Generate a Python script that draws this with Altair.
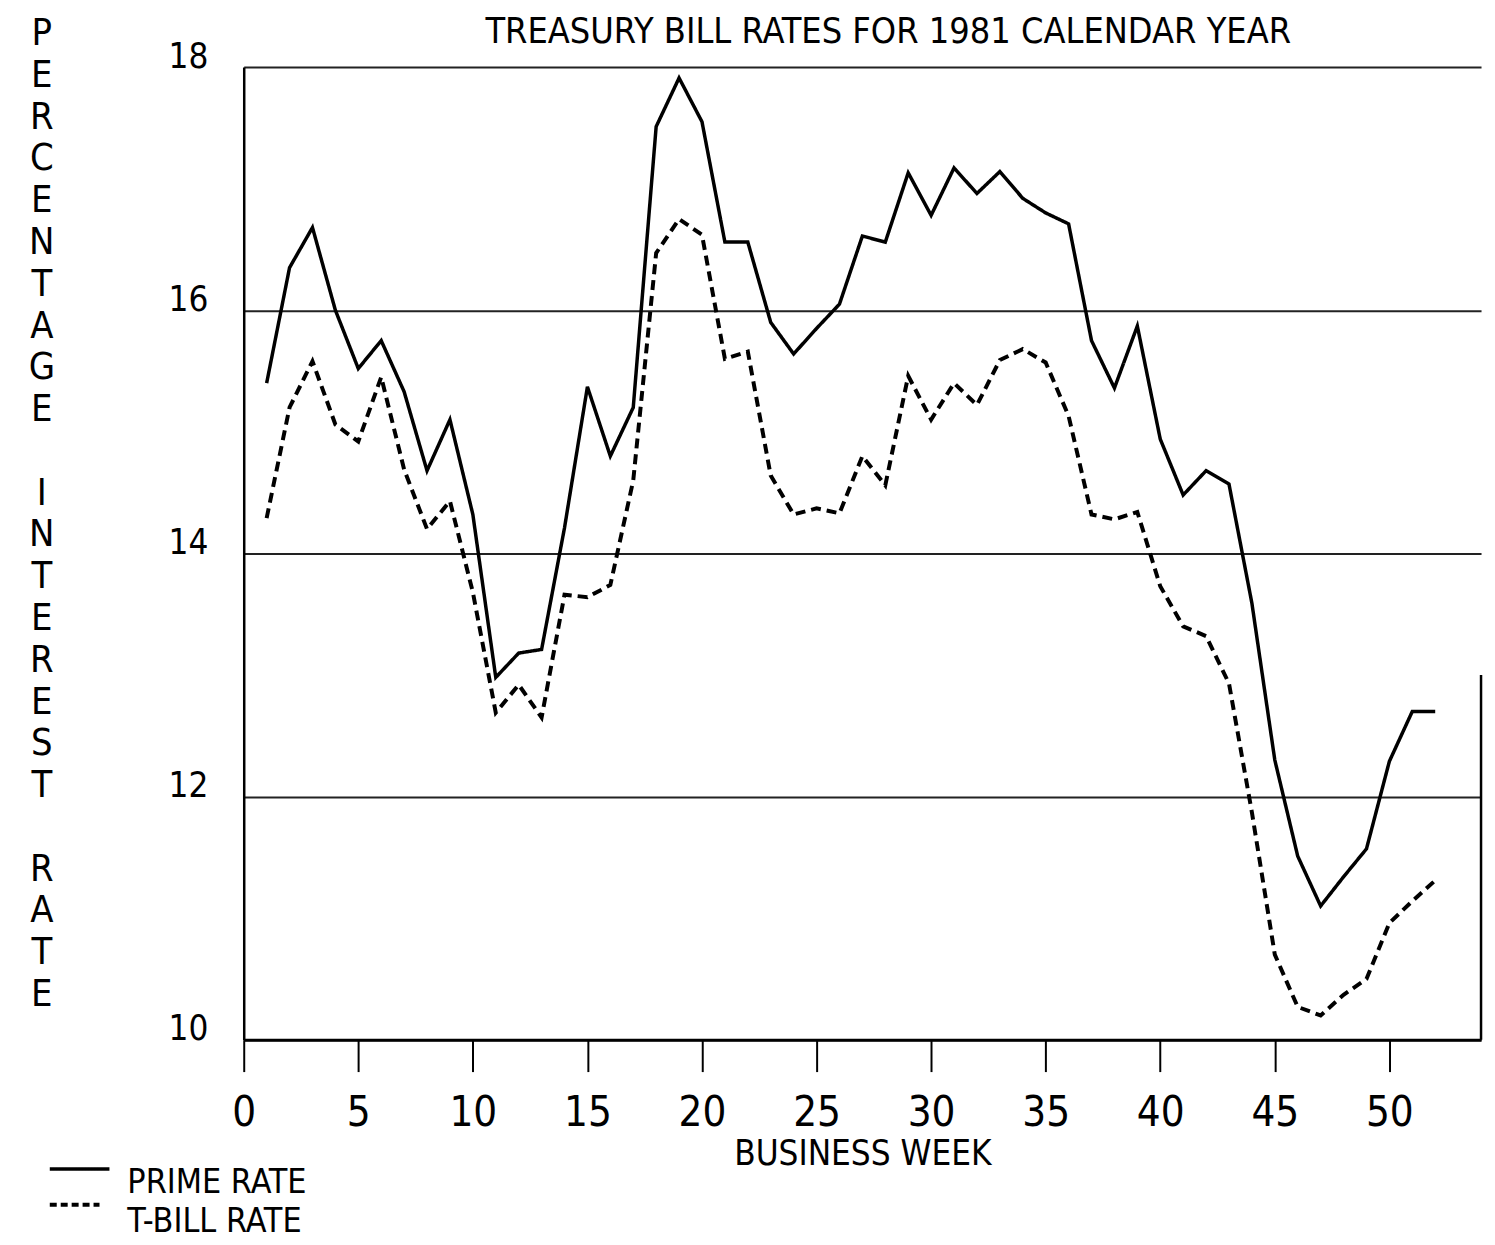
import altair as alt
import pandas as pd

# ---------------- data ----------------
weeks = list(range(1, 53))

prime_rate = [
    15.40, 16.35, 16.68, 16.00, 15.52, 15.75, 15.33, 14.68, 15.10, 14.32,
    12.98, 13.18, 13.21, 14.21, 15.37, 14.80, 15.20, 17.51, 17.91, 17.55,
    16.56, 16.56, 15.90, 15.64, 15.85, 16.05, 16.61, 16.56, 17.13, 16.78,
    17.17, 16.96, 17.14, 16.92, 16.80, 16.71, 15.75, 15.36, 15.87, 14.94,
    14.48, 14.68, 14.57, 13.59, 12.30, 11.51, 11.10, 11.34, 11.57, 12.29,
    12.70, 12.70,
]

tbill_rate = [
    14.29, 15.20, 15.58, 15.06, 14.92, 15.45, 14.69, 14.20, 14.43, 13.68,
    12.69, 12.92, 12.65, 13.66, 13.64, 13.74, 14.60, 16.47, 16.75, 16.62,
    15.60, 15.66, 14.64, 14.32, 14.37, 14.33, 14.80, 14.56, 15.46, 15.10,
    15.40, 15.22, 15.59, 15.68, 15.57, 15.13, 14.32, 14.28, 14.34, 13.73,
    13.40, 13.32, 12.93, 11.87, 10.70, 10.27, 10.20, 10.37, 10.50, 10.96,
    11.14, 11.31,
]

series_names = ["PRIME RATE", "T-BILL RATE"]
x_ticks = [0, 5, 10, 15, 20, 25, 30, 35, 40, 45, 50]
y_ticks = [10, 12, 14, 16, 18]
title_text = "TREASURY BILL RATES FOR 1981 CALENDAR YEAR"
x_title = "BUSINESS WEEK"
y_title_words = ["PERCENTAGE", "INTEREST", "RATE"]

# right-hand frame stub seen in the reference
frame_x = [54]
frame_top = [13.0]
frame_bottom = [10]

# ---------------- build ----------------
df = pd.DataFrame({
    "week": weeks + weeks,
    "rate": prime_rate + tbill_rate,
    "series": [series_names[0]] * len(weeks) + [series_names[1]] * len(weeks),
})

FONT = "Liberation Sans Narrow, DejaVu Sans Condensed, sans-serif"
W, H = 1244, 978
SOLID = [1, 0]
DASH = [10, 6]
LINE_H = 42

lines = alt.Chart(df).mark_line(color="black", strokeJoin="miter").encode(
    x=alt.X(
        "week:Q",
        scale=alt.Scale(domain=[0, 54], nice=False, zero=False),
        axis=alt.Axis(
            values=x_ticks, title=x_title, grid=False, format="d",
            labelFont=FONT, labelFontSize=42, labelColor="black",
            labelPadding=21, labelFlush=False,
            tickSize=32, tickWidth=2, tickColor="black",
            domainColor="black", domainWidth=3,
            titleFont=FONT, titleFontSize=35, titleFontWeight="normal",
            titleColor="black", titleBaseline="top", titleY=97,
        ),
    ),
    y=alt.Y(
        "rate:Q",
        scale=alt.Scale(domain=[10, 18], nice=False, zero=False),
        axis=alt.Axis(
            values=y_ticks, title=None, ticks=False, format="d",
            labelFont=FONT, labelFontSize=35, labelColor="black",
            labelPadding=36, labelBaseline="alphabetic",
            domainColor="black", domainWidth=2.5,
            grid=True, gridColor="#222222", gridWidth=2,
        ),
    ),
    strokeDash=alt.StrokeDash(
        "series:N",
        scale=alt.Scale(domain=series_names, range=[SOLID, DASH]),
        legend=None,
    ),
    strokeWidth=alt.StrokeWidth(
        "series:N",
        scale=alt.Scale(domain=series_names, range=[3.5, 4]),
        legend=None,
    ),
)

frame = alt.Chart(pd.DataFrame({"x": frame_x, "y": frame_top, "y2": frame_bottom})).mark_rule(
    color="black", strokeWidth=2.5
).encode(x="x:Q", y="y:Q", y2="y2:Q")

title = alt.Chart(pd.DataFrame({"t": [title_text]})).mark_text(
    font=FONT, fontSize=36, color="black", align="center", baseline="alphabetic"
).encode(text="t:N", x=alt.value(648), y=alt.value(-24))

# vertical, stacked-letter y-axis title: one block per word, one blank line between
ytitle_layers = []
line_index = 0
for word in y_title_words:
    ytitle_layers.append(
        alt.Chart(pd.DataFrame({"k": [0]})).mark_text(
            text=list(word), font=FONT, fontSize=38, color="black",
            align="center", baseline="top", lineHeight=LINE_H,
        ).encode(x=alt.value(-203), y=alt.value(-52 + line_index * LINE_H))
    )
    line_index += len(word) + 1

# legend (bottom-left, as in the reference)
leg_prime_line = alt.Chart(pd.DataFrame({"k": [0]})).mark_rule(
    color="black", strokeWidth=3.5, strokeDash=SOLID
).encode(x=alt.value(-195), x2=alt.value(-135), y=alt.value(1108))
leg_tbill_line = alt.Chart(pd.DataFrame({"k": [0]})).mark_rule(
    color="black", strokeWidth=4, strokeDash=[7, 4]
).encode(x=alt.value(-195), x2=alt.value(-145), y=alt.value(1144))
leg_prime_text = alt.Chart(pd.DataFrame({"t": [series_names[0]]})).mark_text(
    font=FONT, fontSize=34, color="black", align="left", baseline="alphabetic"
).encode(text="t:N", x=alt.value(-117), y=alt.value(1132))
leg_tbill_text = alt.Chart(pd.DataFrame({"t": [series_names[1]]})).mark_text(
    font=FONT, fontSize=34, color="black", align="left", baseline="alphabetic"
).encode(text="t:N", x=alt.value(-117), y=alt.value(1171))

chart = alt.layer(
    lines, frame, title, *ytitle_layers,
    leg_prime_line, leg_tbill_line, leg_prime_text, leg_tbill_text,
).properties(
    width=W, height=H,
    padding={"left": 237, "top": 56, "right": 6, "bottom": 200},
    autosize=alt.AutoSizeParams(type="none"),
    background="white",
).configure_view(stroke=None)

chart.save("out.html", embed_options={"renderer": "svg", "actions": False})
